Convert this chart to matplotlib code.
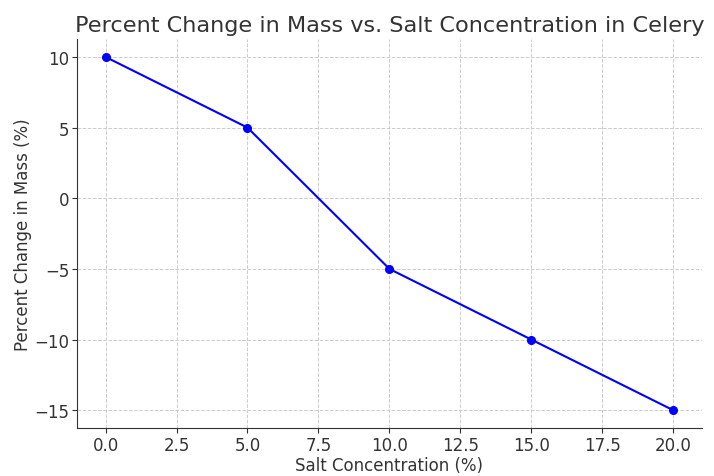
import matplotlib.pyplot as plt

salt_concentration = [0, 5, 10, 15, 20]
percent_change = [10, 5, -5, -10, -15]

TEXT = "#333333"

fig = plt.figure(figsize=(7.14, 4.77), dpi=100)
ax = fig.add_axes([0.108, 0.1006, 0.875, 0.815])

ax.plot(salt_concentration, percent_change, marker="o", color="blue",
        linewidth=1.5, markersize=5.5)

ax.set_title("Percent Change in Mass vs. Salt Concentration in Celery",
             fontsize=16.1, color=TEXT)
ax.set_xlabel("Salt Concentration (%)", fontsize=12, color=TEXT, labelpad=2)
ax.set_ylabel("Percent Change in Mass (%)", fontsize=12, color=TEXT, labelpad=2)

ax.set_xticks([0, 2.5, 5, 7.5, 10, 12.5, 15, 17.5, 20])
ax.set_yticks([10, 5, 0, -5, -10, -15])
ax.tick_params(labelsize=12, colors=TEXT, pad=2)

ax.grid(True, linestyle="--", color="#cccccc", linewidth=0.7)
ax.spines["top"].set_visible(False)
ax.spines["right"].set_visible(False)
ax.spines["left"].set_color(TEXT)
ax.spines["bottom"].set_color(TEXT)

plt.savefig("out.png", dpi=100)
